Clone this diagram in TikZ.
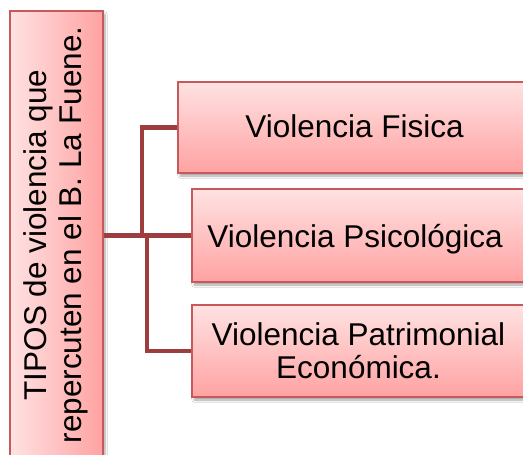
\documentclass[tikz,border=0pt]{standalone}
\usepackage{fontspec}
\setmainfont{Liberation Sans}
\usetikzlibrary{shadows.blur}
\definecolor{bordc}{HTML}{C8595A}
\definecolor{linkc}{HTML}{9E3D3D}
\definecolor{pinklight}{HTML}{FFE2E2}
\definecolor{pinkdark}{HTML}{FFA2A2}
\tikzset{
  shad/.style={blur shadow={shadow xshift=2pt, shadow yshift=-3pt, shadow blur steps=6, shadow opacity=35}},
  itembox/.style={draw=bordc, line width=1.3pt, top color=pinklight, bottom color=pinkdark, shad, inner sep=0pt},
  mainbox/.style={draw=bordc, line width=1.3pt, left color=pinklight, right color=pinkdark, shad, inner sep=0pt},
  lbl/.style={font=\fontsize{31.5}{33.5}\selectfont, inner sep=0pt, align=center},
  link/.style={draw=linkc, line width=4.5pt, line join=miter}
}
\begin{document}
\begin{tikzpicture}[x=1pt, y=-1pt]
\clip (0,0) rectangle (523,455);
\useasboundingbox (0,0) rectangle (523,455);
\fill[white] (0,0) rectangle (523,455);
% boxes
\node[mainbox, minimum width=93pt, minimum height=449pt] (L) at (56.5,235.5) {};
\node[itembox, minimum width=362pt, minimum height=91pt] (B1) at (359,127.5) {};
\node[itembox, minimum width=348pt, minimum height=93pt] (B2) at (366,235.5) {};
\node[itembox, minimum width=348pt, minimum height=92pt] (B3) at (366,351) {};
% connectors
\coordinate (j1) at (142,235.5);
\coordinate (j2) at (147,235.5);
\draw[link] (L.east) -- (B2.west);
\draw[link] (j1) |- (B1.west);
\draw[link] (j2) |- (B3.west);
% texts
\node[lbl, rotate=90, font=\fontsize{31.5}{35}\selectfont] (tl) at (56,235) {TIPOS de violencia que\\repercuten en el B. La Fuene.};
\node[lbl, anchor=base] (t1) at (354.5,137) {Violencia Fisica};
\node[lbl, anchor=base] (t2) at (355,247) {Violencia Psicológica};
\node[lbl, anchor=base] (t3a) at (358.5,345) {Violencia Patrimonial};
\node[lbl, anchor=base] (t3b) at (358.5,378) {Económica.};
\end{tikzpicture}
\end{document}
